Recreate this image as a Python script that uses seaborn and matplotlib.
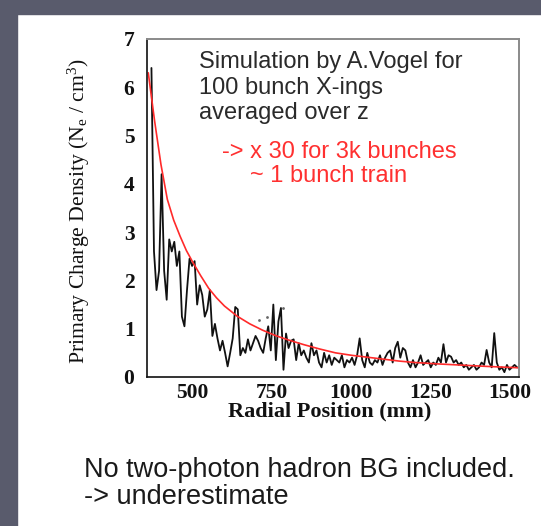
import numpy as np
import pandas as pd
import matplotlib
matplotlib.use("Agg")
import matplotlib.pyplot as plt
from matplotlib.patches import Rectangle
from matplotlib.ticker import MultipleLocator
import seaborn as sns

# Simulated primary charge density per radial bin (100 bunch crossings, averaged over z)
r_start = 370
r_step = 8
density = [
    6.4, 2.6, 1.8, 2.2, 4.2, 2.2, 1.6, 2.85, 2.6,
    2.8, 2.3, 2.6, 1.25, 1.05, 1.8, 2.45, 2.3, 2.4, 1.5,
    1.9, 1.7, 1.25, 1.4, 1.8, 0.85, 1.1, 0.8, 0.55, 0.75,
    0.5, 0.22, 0.5, 0.8, 1.45, 1.4, 0.45, 0.6, 0.5, 0.78,
    0.55, 0.7, 0.85, 0.75, 0.6, 0.5, 0.8, 1.05, 0.55, 1.5,
    0.35, 1.15, 1.43, 0.15, 0.9, 0.6, 0.75, 0.78, 0.35, 0.7,
    0.45, 0.55, 0.4, 0.3, 0.7, 0.45, 0.55, 0.3, 0.2, 0.5,
    0.3, 0.45, 0.25, 0.4, 0.35, 0.3, 0.45, 0.2, 0.35, 0.3,
    0.4, 0.25, 0.45, 0.8, 0.35, 0.2, 0.5, 0.3, 0.25, 0.35,
    0.3, 0.45, 0.25, 0.4, 0.5, 0.55, 0.3, 0.6, 0.73, 0.4,
    0.6, 0.55, 0.3, 0.2, 0.35, 0.2, 0.3, 0.45, 0.25, 0.3,
    0.35, 0.2, 0.3, 0.25, 0.4, 0.3, 0.68, 0.3, 0.45, 0.42,
    0.3, 0.35, 0.25, 0.3, 0.2, 0.25, 0.15, 0.2, 0.25, 0.15,
    0.2, 0.3, 0.25, 0.56, 0.3, 0.2, 0.91, 0.3, 0.15, 0.2,
    0.1, 0.25, 0.15, 0.2, 0.25, 0.2,
]
radius = [r_start + i * r_step for i in range(len(density))]

# Isolated entries drawn as single dots
dot_r = [709, 734, 785]
dot_density = [1.18, 1.25, 1.43]

# Smooth fitted trend
fit_r = [360, 380, 400, 420, 440, 460, 480, 500, 525, 550, 575, 600, 640, 680,
         720, 760, 800, 850, 900, 950, 1000, 1050, 1100, 1150, 1200, 1275, 1350,
         1425, 1530]
fit_density = [6.3, 5.3, 4.4, 3.68, 3.25, 2.92, 2.62, 2.38, 2.1, 1.84, 1.64, 1.47,
               1.26, 1.1, 0.97, 0.86, 0.77, 0.67, 0.58, 0.5, 0.45, 0.41, 0.37, 0.33,
               0.3, 0.27, 0.245, 0.22, 0.19]

x_ticks = [500, 750, 1000, 1250, 1500]
y_ticks = [0, 1, 2, 3, 4, 5, 6, 7]

sns.set_style("white")
plt.rcParams["mathtext.fontset"] = "custom"
plt.rcParams["mathtext.rm"] = "Liberation Serif"
plt.rcParams["mathtext.it"] = "Liberation Serif:italic"

W, H = 541, 526
fig = plt.figure(figsize=(W / 100, H / 100), dpi=100)
fig.patch.set_facecolor("white")

border = "#595b6c"
fig.add_artist(Rectangle((0, 0), 17 / W, 1, transform=fig.transFigure,
                         color=border, zorder=0))
fig.add_artist(Rectangle((0, 1 - 14 / H), 1, 14 / H, transform=fig.transFigure,
                         color=border, zorder=0))


def fpos(x, y):
    return x / W, 1 - y / H


left, top, right, bottom = 147, 39, 519, 377
ax = fig.add_axes([left / W, 1 - bottom / H, (right - left) / W, (bottom - top) / H])

sim = pd.DataFrame({"r": radius, "density": density})
fit = pd.DataFrame({"r": fit_r, "density": fit_density})
dots = pd.DataFrame({"r": dot_r, "density": dot_density})

sns.lineplot(data=sim, x="r", y="density", ax=ax, color="#111111", lw=1.3,
             estimator=None, sort=False)
sns.lineplot(data=fit, x="r", y="density", ax=ax, color="#ff2a2a", lw=1.2,
             estimator=None, sort=False)
sns.scatterplot(data=dots, x="r", y="density", ax=ax, color="#666666", s=4,
                linewidth=0)

ax.set_xlim(356, 1528)
ax.set_ylim(0, 7)
ax.set_xticks(x_ticks)
ax.set_yticks(y_ticks)
ax.xaxis.set_minor_locator(MultipleLocator(62.5))
ax.yaxis.set_minor_locator(MultipleLocator(0.2))
ax.set_xlabel("")
ax.set_ylabel("")

ax.tick_params(axis="both", which="both", direction="in", top=False, right=False,
               colors="#111111")
ax.tick_params(axis="y", which="major", length=10, width=1.1, pad=9)
ax.tick_params(axis="y", which="minor", length=6, width=0.9)
ax.tick_params(axis="x", which="major", length=9, width=1.1, pad=4)
ax.tick_params(axis="x", which="minor", length=5, width=0.9)
for lab in ax.get_xticklabels() + ax.get_yticklabels():
    lab.set_fontfamily("Liberation Serif")
    lab.set_fontsize(15.5)
    lab.set_fontweight("bold")

for side in ["left", "bottom"]:
    ax.spines[side].set_color("#111111")
    ax.spines[side].set_linewidth(1.2)
for side in ["top", "right"]:
    ax.spines[side].set_color("#8a8a8a")
    ax.spines[side].set_linewidth(1.4)

fig.text(*fpos(330, 411), "Radial Position (mm)", family="Liberation Serif",
         fontsize=16, fontweight="bold", ha="center", va="center", color="#111111")
fig.text(*fpos(79, 211), r"Primary Charge Density (N$_\mathrm{e}$ / cm$^\mathrm{3}$)",
         family="Liberation Serif", fontsize=15.6, rotation=90,
         ha="center", va="center", color="#111111")

note = dict(family="Liberation Sans", fontsize=17, ha="left", va="center")
fig.text(*fpos(199, 62), "Simulation by A.Vogel for", color="#2a2a2a", **note)
fig.text(*fpos(199, 88), "100 bunch X-ings", color="#2a2a2a", **note)
fig.text(*fpos(199, 113), "averaged over z", color="#2a2a2a", **note)
fig.text(*fpos(222, 152), "-> x 30 for 3k bunches", color="#ff3030", **note)
fig.text(*fpos(250, 176), "~ 1 bunch train", color="#ff3030", **note)

bottom_note = dict(family="Liberation Sans", fontsize=19.5, ha="left", va="center",
                   color="#1a1a1a")
fig.text(*fpos(84, 470), "No two-photon hadron BG included.", **bottom_note)
fig.text(*fpos(84, 497), "-> underestimate", **bottom_note)

fig.savefig("out.png", dpi=100, facecolor=fig.get_facecolor())
